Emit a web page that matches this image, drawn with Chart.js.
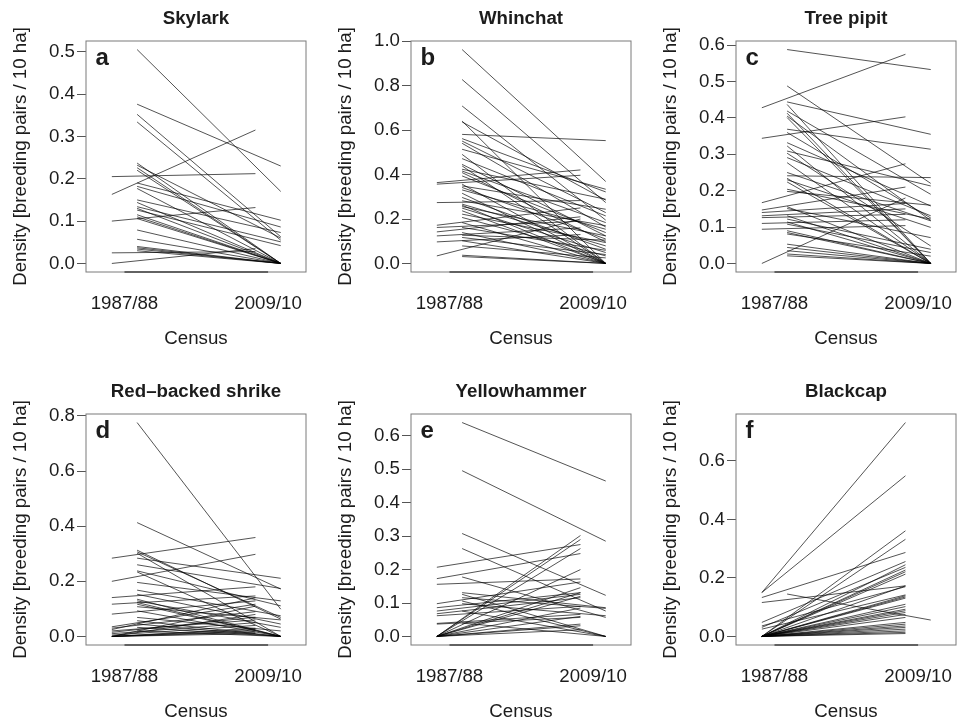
<!DOCTYPE html>
<html>
<head>
<meta charset="utf-8">
<script src="https://cdn.jsdelivr.net/npm/chart.js@4.4.1/dist/chart.umd.min.js"></script>
<style>
  html, body { margin: 0; padding: 0; background: #fff; overflow: hidden; }
  #page { position: relative; width: 957px; height: 721px; }
  #page canvas { position: absolute; }
</style>
</head>
<body>
<div id="page">
  <canvas id="panelA" width="312" height="350" style="left:0px;top:0px"></canvas>
  <canvas id="panelB" width="312" height="350" style="left:325px;top:0px"></canvas>
  <canvas id="panelC" width="312" height="350" style="left:650px;top:0px"></canvas>
  <canvas id="panelD" width="312" height="350" style="left:0px;top:373px"></canvas>
  <canvas id="panelE" width="312" height="350" style="left:325px;top:373px"></canvas>
  <canvas id="panelF" width="312" height="350" style="left:650px;top:373px"></canvas>
</div>
<script>
// ================= DATA =================
const censusLabels = ["1987/88", "2009/10"];
const speciesNames = ["Skylark", "Whinchat", "Tree pipit", "Red\u2013backed shrike", "Yellowhammer", "Blackcap"];
const panelLetters = ["a", "b", "c", "d", "e", "f"];

// density per plot, first census / second census (same order)
const skylark1987 = [0.505, 0.376, 0.352, 0.334, 0.237, 0.232, 0.226, 0.220, 0.190, 0.182, 0.177, 0.150, 0.144, 0.134, 0.130,
  0.126, 0.115, 0.110, 0.106, 0.079, 0.057, 0.040, 0.037, 0.034, 0.030, 0.000, 0.025, 0.100, 0.163, 0.205];
const skylark2009 = [0.170, 0.230, 0.063, 0.055, 0.000, 0.060, 0.000, 0.000, 0.102, 0.086, 0.000, 0.073, 0.000, 0.051, 0.000,
  0.042, 0.000, 0.000, 0.000, 0.000, 0.000, 0.000, 0.000, 0.000, 0.000, 0.035, 0.028, 0.132, 0.315, 0.212];

const whinchat1987 = [0.963, 0.828, 0.709, 0.641, 0.637, 0.581, 0.562, 0.551, 0.541, 0.514, 0.491, 0.472, 0.446, 0.439, 0.424,
  0.416, 0.409, 0.394, 0.357, 0.349, 0.342, 0.331, 0.316, 0.297, 0.282, 0.267, 0.262, 0.256, 0.249, 0.237, 0.222, 0.207,
  0.184, 0.162, 0.139, 0.127, 0.117, 0.102, 0.079, 0.037, 0.031,
  0.364, 0.357, 0.274, 0.172, 0.162, 0.142, 0.124, 0.097, 0.034];
const whinchat2009 = [0.369, 0.274, 0.195, 0.000, 0.285, 0.553, 0.322, 0.229, 0.164, 0.334, 0.000, 0.214, 0.124, 0.000, 0.289,
  0.184, 0.097, 0.139, 0.000, 0.244, 0.110, 0.154, 0.000, 0.064, 0.170, 0.079, 0.000, 0.124, 0.049, 0.000, 0.094, 0.034,
  0.000, 0.059, 0.000, 0.105, 0.040, 0.000, 0.025, 0.000, 0.000,
  0.421, 0.397, 0.283, 0.250, 0.190, 0.210, 0.160, 0.130, 0.200];

const treePipit1987 = [0.588, 0.488, 0.444, 0.437, 0.419, 0.413, 0.405, 0.401, 0.369, 0.360, 0.332, 0.323, 0.309, 0.303, 0.291,
  0.277, 0.250, 0.241, 0.234, 0.230, 0.224, 0.204, 0.198, 0.156, 0.151, 0.131, 0.122, 0.114, 0.108, 0.090, 0.085, 0.081,
  0.053, 0.044, 0.035, 0.026, 0.021,
  0.428, 0.344, 0.167, 0.147, 0.140, 0.131, 0.126, 0.110, 0.094, 0.000];
const treePipit2009 = [0.533, 0.220, 0.355, 0.000, 0.190, 0.000, 0.118, 0.000, 0.314, 0.125, 0.158, 0.000, 0.213, 0.048, 0.131,
  0.000, 0.117, 0.236, 0.000, 0.099, 0.000, 0.122, 0.160, 0.000, 0.071, 0.000, 0.039, 0.000, 0.030, 0.000, 0.000, 0.020,
  0.000, 0.000, 0.000, 0.000, 0.000,
  0.575, 0.403, 0.274, 0.210, 0.165, 0.150, 0.135, 0.120, 0.104, 0.180];

const shrike1987 = [0.776, 0.413, 0.313, 0.307, 0.302, 0.284, 0.260, 0.238, 0.234, 0.196, 0.168, 0.153, 0.135, 0.129, 0.123,
  0.117, 0.108, 0.093, 0.069, 0.057, 0.045, 0.033, 0.020,
  0.284, 0.200, 0.141, 0.117, 0.081, 0.035, 0.030, 0.025, 0.020, 0.015, 0.010, 0.005, 0.000, 0.000, 0.000, 0.000, 0.000,
  0.000, 0.000];
const shrike2009 = [0.099, 0.172, 0.063, 0.069, 0.000, 0.211, 0.174, 0.111, 0.000, 0.129, 0.075, 0.045, 0.000, 0.033, 0.000,
  0.000, 0.060, 0.000, 0.020, 0.000, 0.000, 0.000, 0.000,
  0.359, 0.298, 0.180, 0.147, 0.129, 0.117, 0.090, 0.140, 0.060, 0.070, 0.050, 0.040, 0.110, 0.080, 0.030, 0.020, 0.015,
  0.025, 0.010];

const yellowhammer1987 = [0.640, 0.496, 0.308, 0.263, 0.178, 0.131, 0.126, 0.116, 0.106, 0.098, 0.076, 0.040,
  0.207, 0.173, 0.156, 0.098, 0.086, 0.076, 0.068, 0.062, 0.039, 0.037, 0.000, 0.000, 0.000, 0.000, 0.000, 0.000,
  0.000, 0.000, 0.000, 0.000, 0.000, 0.000];
const yellowhammer2009 = [0.465, 0.285, 0.123, 0.076, 0.057, 0.086, 0.000, 0.084, 0.000, 0.062, 0.000, 0.000,
  0.275, 0.248, 0.172, 0.163, 0.131, 0.126, 0.116, 0.090, 0.066, 0.057, 0.302, 0.290, 0.263, 0.200, 0.146, 0.131,
  0.120, 0.085, 0.060, 0.037, 0.032, 0.020];

const blackcap1987 = [0.145,
  0.150, 0.150, 0.133, 0.116, 0.048, 0.036, 0.031, 0.025, 0.000, 0.000, 0.000, 0.000, 0.000, 0.000, 0.000, 0.000,
  0.000, 0.000, 0.000, 0.000, 0.000, 0.000, 0.000, 0.000, 0.000, 0.000, 0.000, 0.000, 0.000, 0.000, 0.000, 0.000, 0.000];
const blackcap2009 = [0.056,
  0.731, 0.549, 0.287, 0.173, 0.256, 0.170, 0.236, 0.142, 0.361, 0.332, 0.245, 0.227, 0.221, 0.213, 0.173, 0.139,
  0.135, 0.131, 0.110, 0.102, 0.093, 0.088, 0.082, 0.075, 0.065, 0.048, 0.042, 0.036, 0.031, 0.025, 0.019, 0.014, 0.010];

// y tick labels for each panel
const yTicksSkylark = [0, 0.1, 0.2, 0.3, 0.4, 0.5];
const yTicksWhinchat = [0, 0.2, 0.4, 0.6, 0.8, 1.0];
const yTicksTreePipit = [0, 0.1, 0.2, 0.3, 0.4, 0.5, 0.6];
const yTicksShrike = [0, 0.2, 0.4, 0.6, 0.8];
const yTicksYellowhammer = [0, 0.1, 0.2, 0.3, 0.4, 0.5, 0.6];
const yTicksBlackcap = [0, 0.2, 0.4, 0.6];

// ================= STYLE =================
const FONT = "'Liberation Sans', Arial, Helvetica, sans-serif";
const SIZE = 18.7;
const TEXT = "#1c1c1c";
const LINE = "rgba(0,0,0,0.85)";
const BOX = "#7a7a7a";
const JITTER = 0.088; // increases drawn left, decreases right

const panels = [
  { canvas: "panelA", start: skylark1987, end: skylark2009, ticks: yTicksSkylark },
  { canvas: "panelB", start: whinchat1987, end: whinchat2009, ticks: yTicksWhinchat },
  { canvas: "panelC", start: treePipit1987, end: treePipit2009, ticks: yTicksTreePipit },
  { canvas: "panelD", start: shrike1987, end: shrike2009, ticks: yTicksShrike },
  { canvas: "panelE", start: yellowhammer1987, end: yellowhammer2009, ticks: yTicksYellowhammer },
  { canvas: "panelF", start: blackcap1987, end: blackcap2009, ticks: yTicksBlackcap }
];

// ================= BOX + LETTER PLUGIN =================
const framePlugin = {
  id: "frame",
  afterDraw(chart, args, opts) {
    const { ctx, chartArea: a } = chart;
    const x = chart.scales.x;
    ctx.save();
    ctx.strokeStyle = BOX;
    ctx.lineWidth = 1;
    ctx.strokeRect(a.left, a.top, a.right - a.left, a.bottom - a.top);

    // axis line between the two censuses
    ctx.strokeStyle = "#444";
    ctx.lineWidth = 1.6;
    ctx.beginPath();
    ctx.moveTo(x.getPixelForValue(1), a.bottom);
    ctx.lineTo(x.getPixelForValue(2), a.bottom);
    ctx.stroke();

    ctx.fillStyle = TEXT;
    ctx.font = "bold 24px " + FONT;
    ctx.textBaseline = "alphabetic";
    ctx.textAlign = "left";
    ctx.fillText(opts.letter, a.left + 9.5, a.top + 24);
    ctx.restore();
  }
};

// no extra room for tick labels, the box is fixed
function noPad(s) {
  s.paddingLeft = 0;
  s.paddingRight = 0;
  s.paddingTop = 0;
  s.paddingBottom = 0;
}

// ================= CHART =================
function makeChart(p, i) {
  const datasets = p.start.map((s, k) => {
    const e = p.end[k];
    const shift = e > s ? -JITTER : JITTER;
    return {
      data: [{ x: 1 + shift, y: s }, { x: 2 + shift, y: e }],
      borderColor: LINE,
      borderWidth: 0.8,
      pointRadius: 0,
      fill: false
    };
  });

  const top = Math.max(...p.start, ...p.end);

  new Chart(document.getElementById(p.canvas), {
    type: "line",
    data: { datasets },
    options: {
      responsive: false,
      animation: false,
      events: [],
      layout: { padding: { left: 0, right: 6, top: 0, bottom: 0 } },
      plugins: {
        legend: { display: false },
        tooltip: { enabled: false },
        title: {
          display: true,
          text: speciesNames[i],
          fullSize: false,
          color: TEXT,
          font: { family: FONT, size: SIZE, weight: "bold" },
          padding: { top: 7.8, bottom: 10.76 }
        },
        frame: { letter: panelLetters[i] }
      },
      scales: {
        x: {
          type: "linear",
          min: 0.732,
          max: 2.264,
          afterBuildTicks: s => { s.ticks = [{ value: 1 }, { value: 2 }]; },
          ticks: {
            callback: v => censusLabels[Math.round(v) - 1],
            color: TEXT,
            font: { family: FONT, size: SIZE },
            padding: 12.4,
            maxRotation: 0,
            autoSkip: false
          },
          grid: { display: false },
          border: { display: false },
          title: {
            display: true,
            text: "Census",
            color: TEXT,
            font: { family: FONT, size: SIZE },
            padding: { top: 0, bottom: 0 }
          },
          afterFit: s => { s.height = 78; noPad(s); }
        },
        y: {
          min: -0.04 * top,
          max: 1.04 * top,
          afterBuildTicks: s => { s.ticks = p.ticks.map(v => ({ value: v })); },
          ticks: {
            callback: v => v.toFixed(1),
            color: TEXT,
            font: { family: FONT, size: SIZE },
            padding: 2
          },
          grid: {
            display: true,
            drawOnChartArea: false,
            drawTicks: true,
            tickLength: 9,
            tickColor: "#555",
            tickWidth: 1
          },
          border: { display: false },
          title: {
            display: true,
            text: "Density [breeding pairs / 10 ha]",
            color: TEXT,
            font: { family: FONT, size: SIZE },
            padding: { top: 9.5, bottom: 0 }
          },
          afterFit: s => { s.width = 86; noPad(s); }
        }
      }
    },
    plugins: [framePlugin]
  });
}

// ================= INIT =================
panels.forEach(makeChart);
</script>
</body>
</html>
